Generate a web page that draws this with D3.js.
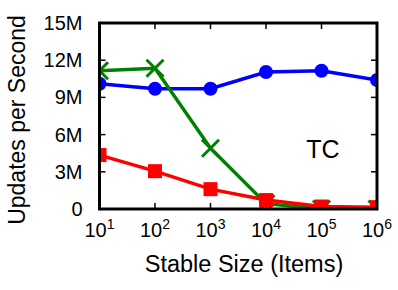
<!DOCTYPE html>
<html>
<head>
<meta charset="utf-8">
<script src="https://cdn.jsdelivr.net/npm/d3@7"></script>
<style>
  body { margin: 0; background: #fff; }
  text { font-family: "Liberation Sans", Arial, sans-serif; fill: #000; }
</style>
</head>
<body>
<div id="chart"></div>
<script>
// data
const sizes = [1e1, 1e2, 1e3, 1e4, 1e5, 1e6];
const blueSeries = [10.1e6, 9.7e6, 9.7e6, 11.05e6, 11.15e6, 10.4e6];
const greenSeries = [11.15e6, 11.35e6, 4.9e6, 0.43e6, 0, 0];
const redSeries = [4.35e6, 3.05e6, 1.6e6, 0.72e6, 0.2e6, 0.15e6];
const yTicks = [0, 3e6, 6e6, 9e6, 12e6, 15e6];
const yTickLabels = ["0", "3M", "6M", "9M", "12M", "15M"];

const W = 398, H = 290;
const margin = { top: 23, right: 21, bottom: 81, left: 99.5 };
const width = W - margin.left - margin.right;
const height = H - margin.top - margin.bottom;

const svg = d3.select("#chart").append("svg")
  .attr("width", W).attr("height", H);
const g = svg.append("g")
  .attr("transform", `translate(${margin.left},${margin.top})`);

svg.append("defs").append("clipPath").attr("id", "plot-clip")
  .append("rect").attr("width", width).attr("height", height);

const x = d3.scaleLog().domain([1e1, 1e6]).range([0, width]);
const y = d3.scaleLinear().domain([0, 15e6]).range([height, 0]);

// ticks (inward, mirrored)
const tickLen = 6;
const tk = g.append("g").attr("stroke", "#000").attr("stroke-width", 1.5);
sizes.forEach(s => {
  tk.append("line").attr("x1", x(s)).attr("x2", x(s)).attr("y1", height).attr("y2", height - tickLen);
  tk.append("line").attr("x1", x(s)).attr("x2", x(s)).attr("y1", 0).attr("y2", tickLen);
});
yTicks.forEach(t => {
  tk.append("line").attr("x1", 0).attr("x2", tickLen).attr("y1", y(t)).attr("y2", y(t));
  tk.append("line").attr("x1", width).attr("x2", width - tickLen).attr("y1", y(t)).attr("y2", y(t));
});

// tick labels
yTicks.forEach((t, i) => {
  g.append("text")
    .attr("x", -17).attr("y", y(t)).attr("dy", "0.35em")
    .attr("text-anchor", "end").style("font-size", "20px")
    .text(yTickLabels[i]);
});
sizes.forEach(s => {
  const t = g.append("text")
    .attr("x", x(s)).attr("y", height + 28)
    .attr("text-anchor", "middle").style("font-size", "20px");
  t.append("tspan").text("10");
  t.append("tspan").attr("dy", -8).style("font-size", "14px").text(Math.round(Math.log10(s)));
});

// series
const plot = g.append("g").attr("clip-path", "url(#plot-clip)");
const line = d3.line().x((d, i) => x(sizes[i])).y(d => y(d));

function drawLine(data, color) {
  plot.append("path").datum(data)
    .attr("fill", "none").attr("stroke", color).attr("stroke-width", 3.5)
    .attr("d", line);
}

drawLine(blueSeries, "#0000ff");
plot.selectAll(".circ").data(blueSeries).enter().append("circle")
  .attr("cx", (d, i) => x(sizes[i])).attr("cy", d => y(d))
  .attr("r", 7).attr("fill", "#0000ff");

drawLine(greenSeries, "#008000");
const k = 8.5;
plot.selectAll(".cross").data(greenSeries).enter().append("path")
  .attr("transform", (d, i) => `translate(${x(sizes[i])},${y(d)})`)
  .attr("d", d3.line()([[-k, -k], [k, k]]) + d3.line()([[-k, k], [k, -k]]))
  .attr("fill", "none").attr("stroke", "#008000").attr("stroke-width", 3);

drawLine(redSeries, "#ff0000");
plot.selectAll(".sq").data(redSeries).enter().append("rect")
  .attr("x", (d, i) => x(sizes[i]) - 7).attr("y", d => y(d) - 7)
  .attr("width", 14).attr("height", 14).attr("fill", "#ff0000");

// frame
g.append("rect").attr("width", width).attr("height", height)
  .attr("fill", "none").attr("stroke", "#000").attr("stroke-width", 3);

// label inside
svg.append("text").attr("x", 323).attr("y", 158)
  .attr("text-anchor", "middle").style("font-size", "25px").text("TC");

// axis titles
svg.append("text")
  .attr("x", 244).attr("y", 272)
  .attr("text-anchor", "middle").style("font-size", "23.5px")
  .text("Stable Size (Items)");
svg.append("text")
  .attr("transform", "translate(25,120) rotate(-90)")
  .attr("text-anchor", "middle").style("font-size", "23px")
  .text("Updates per Second");
</script>
</body>
</html>
